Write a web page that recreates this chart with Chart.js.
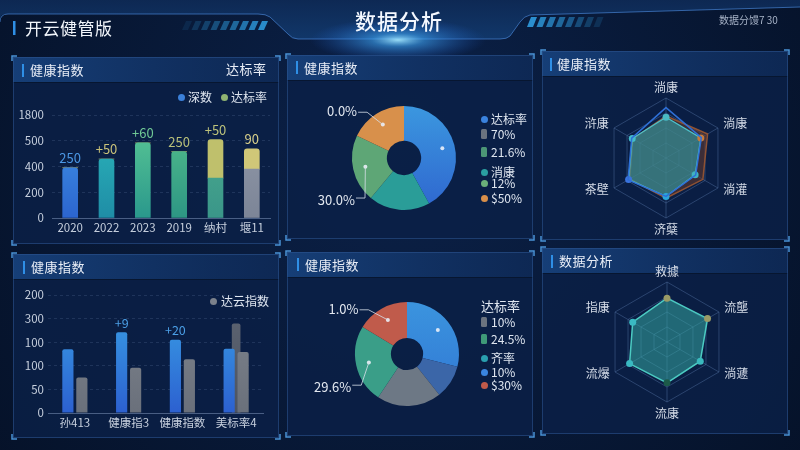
<!DOCTYPE html>
<html><head><meta charset="utf-8">
<script src="https://cdn.jsdelivr.net/npm/chart.js@4.4.1/dist/chart.umd.min.js"></script>
<style>
html,body{margin:0;padding:0}
body{width:800px;height:450px;overflow:hidden;position:relative;background:#061531;font-family:"Noto Sans CJK SC","Noto Sans",sans-serif;color:#e6ecf5}
.abs{position:absolute}
canvas{position:absolute;display:block}
.title{position:absolute;font-size:13px;line-height:16px;color:#e9eef7;white-space:nowrap;letter-spacing:0.5px}
.lg{position:absolute;font-size:12px;line-height:14px;color:#dfe6f0;white-space:nowrap}
.mk{position:absolute}
</style></head>
<body>
<canvas id="deco" width="800" height="450" style="left:0;top:0"></canvas>

<div class="abs" style="left:25px;top:17px;font-size:17px;line-height:22px;color:#f2f6fb;letter-spacing:0.5px">开云健管版</div>
<div class="abs" style="left:0;width:798px;top:7px;text-align:center;font-size:21px;line-height:26px;color:#f4f8ff;letter-spacing:1px;font-weight:500">数据分析</div>
<div class="abs" style="left:719px;top:13px;font-size:10px;line-height:14px;color:#a7b3c7">数据分馒7 30</div>

<div class="title" style="left:30px;top:62px">健康指数</div>
<div class="title" style="left:226px;top:61px">达标率</div>
<div class="title" style="left:304px;top:60px">健康指数</div>
<div class="title" style="left:557px;top:56px">健康指数</div>
<div class="title" style="left:31px;top:259px">健康指数</div>
<div class="title" style="left:305px;top:257px">健康指数</div>
<div class="title" style="left:559px;top:253px">数据分析</div>

<canvas id="c1" width="266" height="164" style="left:13px;top:80px"></canvas>
<canvas id="c2" width="246" height="160" style="left:287px;top:80px"></canvas>
<canvas id="c3" width="248" height="168" style="left:542px;top:72px"></canvas>
<canvas id="c4" width="266" height="162" style="left:13px;top:276px"></canvas>
<canvas id="c5" width="246" height="160" style="left:287px;top:276px"></canvas>
<canvas id="c6" width="248" height="178" style="left:542px;top:258px"></canvas>

<div id="lg1"></div><div id="lg2"></div><div id="lg4"></div><div id="lg5"></div>

<script>
// ================= DATA =================
const bar1Categories = ["2020", "2022", "2023", "2019", "纳村", "堰11"];
const bar1Base = [390, 458, 583, 515, 310, 380];
const bar1Top = [0, 0, 0, 0, 299, 157];
const bar1YTickLabels = ["0", "200", "400", "500", "1800"];
const bar1ValueLabels = ["250", "+50", "+60", "250", "+50", "90"];
const bar1LegendLabels = ["深数", "达标率"];

const bar2Categories = ["孙413", "健康指3", "健康指数", "美标率4"];
const bar2Blue = [135, 171, 155, 136];
const bar2Gray = [75, 96, 114, 129];
const bar2Dark = [null, null, null, 189];
const bar2YTickLabels = ["0", "50", "100", "100", "300", "200"];
const bar2ValueLabels = ["", "+9", "+20", ""];
const bar2LegendLabels = ["达云指数"];

const pie1Slices = ["达标率", "消康", "12%", "$50%"];
const pie1Values = [42, 19, 21, 18];
const pie1Callouts = ["", "", "30.0%", "0.0%"];
const pie1LegendLabels = ["达标率", "70%", "21.6%", "消康", "12%", "$50%"];

const pie2Slices = ["10%", "达标率", "10%", "24.5%", "$30%"];
const pie2Values = [29, 10.4, 20, 24.4, 16.3];
const pie2Callouts = ["", "", "", "29.6%", "1.0%"];
const pie2LegendLabels = ["达标率", "10%", "24.5%", "齐率", "10%", "$30%"];

const radar1Axes = ["淌康", "淌康", "淌灌", "济蘖", "茶壁", "浒康"];
const radar1Teal = [68, 67, 56, 64, 72, 65];
const radar1Brown = [70, 80, 71, 67, 70, 64];
const radar1Blue = [84, 68, 57, 64, 73, 66];

const radar2Axes = ["救據", "流壟", "淌蘧", "流康", "流爆", "指康"];
const radar2Values = [73, 78, 64, 68, 72, 66];

// ================= STYLE =================
const FONT = '"Noto Sans CJK SC","Noto Sans",sans-serif';
const TICK = '#c6cfdd';
const GRID = 'rgba(130,155,200,0.18)';

// ---------- decoration ----------
(function(){
  const c = document.getElementById('deco').getContext('2d');
  let g = c.createRadialGradient(400, 120, 20, 400, 200, 520);
  g.addColorStop(0, '#0b2148'); g.addColorStop(1, '#051127');
  c.fillStyle = g; c.fillRect(0, 0, 800, 450);
  // header band
  c.beginPath();
  c.moveTo(0, 0); c.lineTo(800, 0); c.lineTo(800, 7); c.lineTo(530, 15);
  c.quadraticCurveTo(524, 16, 520, 22); c.lineTo(510, 36); c.quadraticCurveTo(507, 39, 500, 39);
  c.lineTo(298, 39); c.quadraticCurveTo(292, 39, 288, 34); c.lineTo(270, 17); c.quadraticCurveTo(266, 14, 258, 14);
  c.lineTo(6, 14); c.quadraticCurveTo(0, 14, 0, 20); c.closePath();
  g = c.createLinearGradient(0, 0, 0, 40);
  g.addColorStop(0, 'rgba(14,42,86,0.9)'); g.addColorStop(1, 'rgba(18,58,110,0.9)');
  c.fillStyle = g; c.fill();
  c.beginPath();
  c.moveTo(0, 22); c.quadraticCurveTo(0, 14, 8, 14); c.lineTo(258, 14); c.quadraticCurveTo(266, 14, 270, 17);
  c.lineTo(288, 34); c.quadraticCurveTo(292, 39, 298, 39); c.lineTo(500, 39); c.quadraticCurveTo(507, 39, 510, 36);
  c.lineTo(520, 22); c.quadraticCurveTo(524, 16, 530, 15); c.lineTo(800, 7);
  c.strokeStyle = 'rgba(70,130,210,0.7)'; c.lineWidth = 1; c.stroke();
  // glow
  c.save(); c.translate(398, 40); c.scale(4, 1);
  g = c.createRadialGradient(0, 0, 0, 0, 0, 22);
  g.addColorStop(0, 'rgba(160,230,255,0.95)'); g.addColorStop(0.3, 'rgba(60,160,240,0.6)'); g.addColorStop(1, 'rgba(30,90,200,0)');
  c.fillStyle = g; c.beginPath(); c.arc(0, 0, 22, 0, Math.PI * 2); c.fill(); c.restore();
  // stripes
  function stripes(x0, y0, n, step, h, alphaFn){
    for (let i = 0; i < n; i++){
      const x = x0 + i * step;
      c.fillStyle = 'rgba(45,150,215,' + alphaFn(i) + ')';
      c.beginPath(); c.moveTo(x + 4, y0); c.lineTo(x + 10, y0); c.lineTo(x + 6, y0 + h); c.lineTo(x, y0 + h); c.closePath(); c.fill();
    }
  }
  stripes(182, 21, 9, 9.5, 9, i => (0.12 + i * 0.1).toFixed(2));
  stripes(527, 17, 8, 9.5, 10, i => (0.95 - i * 0.11).toFixed(2));
  // header left bar
  c.fillStyle = '#2f8fe6'; c.fillRect(13, 21, 2.5, 14);
  // panels
  const panels = [
    {x:13,y:57,w:266,h:187,bar:[22,64]},
    {x:287,y:55,w:246,h:184,bar:[296,61]},
    {x:542,y:51,w:246,h:189,bar:[550,58]},
    {x:13,y:254,w:266,h:184,bar:[23,261]},
    {x:287,y:252,w:246,h:184,bar:[297,258]},
    {x:542,y:248,w:246,h:186,bar:[551,255]}
  ];
  panels.forEach(p => {
    c.fillStyle = 'rgba(11,32,70,0.85)'; c.fillRect(p.x, p.y, p.w, p.h);
    g = c.createLinearGradient(p.x, 0, p.x + p.w, 0);
    g.addColorStop(0, 'rgba(24,68,128,0.85)'); g.addColorStop(1, 'rgba(16,46,94,0.6)');
    c.fillStyle = g; c.fillRect(p.x, p.y, p.w, 25);
    c.fillStyle = 'rgba(6,18,40,0.7)'; c.fillRect(p.x, p.y + 25, p.w, 1);
    c.strokeStyle = 'rgba(45,85,145,0.55)'; c.lineWidth = 1; c.strokeRect(p.x + 0.5, p.y + 0.5, p.w - 1, p.h - 1);
    c.fillStyle = '#2f8fe6'; c.fillRect(p.bar[0], p.bar[1], 2, 13);
    c.strokeStyle = '#4a92d6'; c.lineWidth = 1.5;
    const L = 5, x1 = p.x - 1, y1 = p.y - 1, x2 = p.x + p.w + 1, y2 = p.y + p.h + 1;
    [[x1,y1,1,1],[x2,y1,-1,1],[x1,y2,1,-1],[x2,y2,-1,-1]].forEach(([x,y,sx,sy]) => {
      c.beginPath(); c.moveTo(x + sx * L, y); c.lineTo(x, y); c.lineTo(x, y + sy * L); c.stroke();
    });
  });
})();

// ---------- helpers ----------
function vgrad(ctx, top, bottom){
  const a = ctx.chart.chartArea;
  if (!a) return top;
  const g = ctx.chart.ctx.createLinearGradient(0, a.top, 0, a.bottom);
  g.addColorStop(0, top); g.addColorStop(1, bottom);
  return g;
}
function legendHTML(id, labels, markers, ys, x, textX){
  const el = document.getElementById(id);
  let h = '';
  labels.forEach((t, i) => {
    const m = markers[i];
    if (m){
      if (m.shape === 'circle') h += `<div class="mk" style="left:${x-3.5}px;top:${ys[i]-3.5}px;width:7px;height:7px;border-radius:50%;background:${m.color}"></div>`;
      else h += `<div class="mk" style="left:${x-3}px;top:${ys[i]-5}px;width:6px;height:10px;border-radius:1.5px;background:${m.color}"></div>`;
    }
    h += `<div class="lg" style="left:${m ? textX : x - 3}px;top:${ys[i]-7}px;${m?'':'font-size:13px'}">${t}</div>`;
  });
  el.innerHTML = h;
}

const valueLabelPlugin = {
  id: 'valueLabels',
  afterDatasetsDraw(chart, args, opts){
    const ctx = chart.ctx; ctx.save();
    ctx.font = opts.font; ctx.textAlign = 'center'; ctx.textBaseline = 'bottom';
    opts.labels.forEach((t, i) => {
      if (!t) return;
      let top = Infinity, x = 0;
      opts.datasets.forEach(d => {
        const v = chart.data.datasets[d].data[i];
        const el = chart.getDatasetMeta(d).data[i];
        if (el && v) { if (el.y < top) { top = el.y; x = el.x; } }
      });
      ctx.fillStyle = opts.colors[i];
      ctx.fillText(t, x, top - opts.gap);
    });
    ctx.restore();
  }
};

const calloutPlugin = {
  id: 'callouts',
  afterDatasetsDraw(chart, args, opts){
    const ctx = chart.ctx; ctx.save();
    const meta = chart.getDatasetMeta(0);
    meta.data.forEach((arc, i) => {
      const p = arc.getProps(['x','y','startAngle','endAngle','innerRadius','outerRadius'], true);
      const mid = (p.startAngle + p.endAngle) / 2;
      const r = (p.innerRadius + p.outerRadius) / 2 + 5;
      const dx = p.x + Math.cos(mid) * r, dy = p.y + Math.sin(mid) * r;
      if (opts.dots.includes(i)){
        ctx.fillStyle = 'rgba(235,240,248,0.9)';
        ctx.beginPath(); ctx.arc(dx, dy, 2, 0, Math.PI * 2); ctx.fill();
      }
      const text = opts.texts[i], e = opts.elbows[i];
      if (!text || !e) return;
      const ex = p.x + e[0] * p.outerRadius, ey = p.y + e[1] * p.outerRadius;
      ctx.strokeStyle = 'rgba(215,222,232,0.8)'; ctx.lineWidth = 1;
      ctx.beginPath(); ctx.moveTo(dx, dy); ctx.lineTo(ex, ey); ctx.lineTo(ex - 9, ey); ctx.stroke();
      ctx.font = '13px ' + FONT; ctx.fillStyle = '#e3e8f0'; ctx.textAlign = 'right'; ctx.textBaseline = 'middle';
      ctx.fillText(text, ex - 10, ey + (e[1] > 0 ? 2 : -1));
    });
    ctx.restore();
  }
};

const radarLabelPlugin = {
  id: 'radarLabels',
  afterDraw(chart){
    const s = chart.scales.r, ctx = chart.ctx; ctx.save();
    ctx.font = '12px ' + FONT; ctx.fillStyle = '#d3dae6'; ctx.textBaseline = 'middle';
    chart.data.labels.forEach((t, i) => {
      const ang = s.getIndexAngle(i) - Math.PI / 2;
      const vert = Math.abs(Math.cos(ang)) < 0.1;
      const p = s.getPointPosition(i, s.drawingArea + (vert ? 11 : 6));
      ctx.textAlign = vert ? 'center' : (Math.cos(ang) > 0 ? 'left' : 'right');
      ctx.fillText(t, p.x, p.y + (vert ? 0 : -2));
    });
    ctx.restore();
  }
};

Chart.defaults.font.family = FONT;
Chart.defaults.animation = false;
Chart.defaults.responsive = false;
Chart.defaults.plugins.legend.display = false;
Chart.defaults.plugins.tooltip.enabled = false;

// ---------- chart 1 : stacked bars ----------
const bar1BaseColors = [['#4299e8','#2c65cf'],['#2cb9bd','#1f8da6'],['#5ecb95','#2a988c'],['#56c18c','#2d9684'],['#4eae8e','#3a9689'],['#949bab','#7c8597']];
const bar1TopColors = ['#c4c46c','#c4c46c','#c4c46c','#c4c46c','#bfc06c','#d0c778'];
new Chart(document.getElementById('c1'), {
  type: 'bar',
  data: { labels: bar1Categories, datasets: [
    { label: bar1LegendLabels[0], data: bar1Base, stack: 's', barThickness: 15,
      backgroundColor: ctx => vgrad(ctx, bar1BaseColors[ctx.dataIndex][0], bar1BaseColors[ctx.dataIndex][1]),
      borderRadius: ctx => bar1Top[ctx.dataIndex] > 0 ? 0 : {topLeft: 3, topRight: 3, bottomLeft: 0, bottomRight: 0}, borderSkipped: false },
    { label: bar1LegendLabels[1], data: bar1Top, stack: 's', barThickness: 15,
      backgroundColor: ctx => bar1TopColors[ctx.dataIndex],
      borderRadius: {topLeft: 3, topRight: 3, bottomLeft: 0, bottomRight: 0}, borderSkipped: false }
  ]},
  options: {
    layout: { padding: { left: 0, right: 9, top: 35, bottom: 6 } },
    plugins: { valueLabels: { labels: bar1ValueLabels, datasets: [0, 1], gap: 3, font: '13px ' + FONT,
      colors: ['#4b97e4', '#c9c27a', '#70c996', '#b9c07a', '#bcc27b', '#d8cf8a'] } },
    scales: {
      x: { stacked: true, grid: { display: false, drawTicks: false }, border: { color: 'rgba(150,172,210,0.45)' },
           ticks: { color: TICK, font: { size: 11.5 }, padding: 3, autoSkip: false, maxRotation: 0 },
           afterFit(s){ s.height = 20; } },
      y: { stacked: true, min: 0, max: 800,
           ticks: { stepSize: 200, color: TICK, font: { size: 11.5 }, padding: 8, callback: (v, i) => bar1YTickLabels[i] },
           grid: { color: ctx => ctx.tick && ctx.tick.value === 0 ? 'rgba(0,0,0,0)' : GRID, drawTicks: false },
           border: { display: false, dash: [3, 3] },
           afterFit(s){ s.width = 39; } }
    }
  },
  plugins: [valueLabelPlugin]
});
legendHTML('lg1', bar1LegendLabels, [{shape:'circle',color:'#3b80d9'},{shape:'circle',color:'#8fb372'}], [97, 97], 0, 0);
(function(){ // place chart-1 legend items
  const el = document.getElementById('lg1'); const kids = el.children;
  kids[0].style.left = '177.5px'; kids[1].style.left = '188px';
  kids[2].style.left = '220.5px'; kids[3].style.left = '231px';
})();

// ---------- chart 4 : grouped bars ----------
new Chart(document.getElementById('c4'), {
  type: 'bar',
  data: { labels: bar2Categories, datasets: [
    { label: 'a', data: bar2Blue, order: 1, categoryPercentage: 0.52, barPercentage: 0.8,
      backgroundColor: ctx => vgrad(ctx, '#3aa6e8', '#2c60d0'), borderRadius: {topLeft: 2, topRight: 2, bottomLeft: 0, bottomRight: 0}, borderSkipped: false },
    { label: bar2LegendLabels[0], data: bar2Gray, order: 1, categoryPercentage: 0.52, barPercentage: 0.8,
      backgroundColor: ctx => vgrad(ctx, '#80868f', '#6a707b'), borderRadius: {topLeft: 2, topRight: 2, bottomLeft: 0, bottomRight: 0}, borderSkipped: false },
    { label: 'b', data: bar2Dark, order: 2, grouped: false, barThickness: 8,
      backgroundColor: ctx => vgrad(ctx, '#5e6573', '#4d5461'), borderRadius: {topLeft: 2, topRight: 2, bottomLeft: 0, bottomRight: 0}, borderSkipped: false }
  ]},
  options: {
    layout: { padding: { left: 0, right: 16, top: 19, bottom: 5 } },
    plugins: { valueLabels: { labels: bar2ValueLabels, datasets: [0], gap: 3, font: '12.5px ' + FONT,
      colors: ['#4b9fe6', '#4b9fe6', '#4b9fe6', '#4b9fe6'] } },
    scales: {
      x: { grid: { display: false, drawTicks: false }, border: { color: 'rgba(150,172,210,0.45)' },
           ticks: { color: TICK, font: { size: 11.5 }, padding: 3, autoSkip: false, maxRotation: 0 },
           afterFit(s){ s.height = 20; } },
      y: { min: 0, max: 250,
           ticks: { stepSize: 50, color: TICK, font: { size: 11.5 }, padding: 4, callback: (v, i) => bar2YTickLabels[i] },
           grid: { color: ctx => ctx.tick && ctx.tick.value === 0 ? 'rgba(0,0,0,0)' : GRID, drawTicks: false },
           border: { display: false, dash: [3, 3] },
           afterFit(s){ s.width = 35; } }
    }
  },
  plugins: [valueLabelPlugin]
});
legendHTML('lg4', bar2LegendLabels, [{shape:'circle',color:'#7c828c'}], [301], 213, 221);

// ---------- chart 2 : doughnut ----------
new Chart(document.getElementById('c2'), {
  type: 'doughnut',
  data: { labels: pie1Slices, datasets: [{ data: pie1Values, borderWidth: 0,
    backgroundColor: ctx => ctx.dataIndex === 0 ? vgrad(ctx, '#3b97df', '#2f66cf') : ['#3b8ee0','#2a9d98','#5ea676','#d8904b'][ctx.dataIndex] }] },
  options: {
    cutout: '33%',
    layout: { padding: { left: 65, right: 77, top: 26, bottom: 30 } },
    plugins: { callouts: { texts: pie1Callouts, dots: [0, 2, 3], elbows: [null, null, [-0.75, 0.77], [-0.71, -0.88]] } }
  },
  plugins: [calloutPlugin]
});
legendHTML('lg2', pie1LegendLabels,
  [{shape:'circle',color:'#3a82de'},{shape:'square',color:'#6b737f'},{shape:'square',color:'#4c9676'},{shape:'circle',color:'#2a9ea0'},{shape:'circle',color:'#6bb07a'},{shape:'circle',color:'#d98f4a'}],
  [119, 134, 152, 172, 183, 198], 484, 491);

// ---------- chart 5 : doughnut ----------
new Chart(document.getElementById('c5'), {
  type: 'doughnut',
  data: { labels: pie2Slices, datasets: [{ data: pie2Values, borderWidth: 0,
    backgroundColor: ctx => ctx.dataIndex === 0 ? vgrad(ctx, '#3b94de', '#3076d4') : ['#3a85de','#3b66a8','#6d7885','#3a9e88','#c05b4b'][ctx.dataIndex] }] },
  options: {
    cutout: '31%',
    layout: { padding: { left: 68, right: 74, top: 26, bottom: 30 } },
    plugins: { callouts: { texts: pie2Callouts, dots: [0, 3, 4], elbows: [null, null, null, [-0.88, 0.6], [-0.74, -0.85]] } }
  },
  plugins: [calloutPlugin]
});
legendHTML('lg5', pie2LegendLabels,
  [null,{shape:'square',color:'#6b737f'},{shape:'square',color:'#3f9a78'},{shape:'circle',color:'#2aa0b0'},{shape:'circle',color:'#3a85e0'},{shape:'circle',color:'#c05a4a'}],
  [306, 322, 339, 358, 372, 385], 484, 491);

// ---------- radar options ----------
function radarScale(){
  return { r: { min: 0, max: 100, ticks: { display: false, stepSize: 25 },
    grid: { color: 'rgba(85,115,165,0.45)', lineWidth: 1 },
    angleLines: { color: 'rgba(85,115,165,0.45)' },
    pointLabels: { display: false } } };
}

// ---------- chart 3 : radar ----------
new Chart(document.getElementById('c3'), {
  type: 'radar',
  data: { labels: radar1Axes, datasets: [
    { data: radar1Blue, order: 1, borderColor: '#2e6fd6', borderWidth: 1.5, backgroundColor: 'rgba(0,0,0,0)', fill: false, pointRadius: 0 },
    { data: radar1Teal, order: 2, borderColor: '#4cc3cc', borderWidth: 1.2, backgroundColor: 'rgba(50,160,168,0.6)', fill: true,
      pointRadius: 3.5, pointBorderWidth: 0,
      pointBackgroundColor: ['#49b9c3', '#c87a3a', '#3fb2c2', '#2aa6dc', '#3a73de', '#44bccb'] },
    { data: radar1Brown, order: 3, borderColor: '#8f5233', borderWidth: 1.5, backgroundColor: 'rgba(110,60,42,0.5)', fill: true, pointRadius: 0 }
  ]},
  options: { layout: { padding: { left: 64, right: 64, top: 26, bottom: 22 } }, scales: radarScale() },
  plugins: [radarLabelPlugin]
});

// ---------- chart 6 : radar ----------
new Chart(document.getElementById('c6'), {
  type: 'radar',
  data: { labels: radar2Axes, datasets: [
    { data: radar2Values, borderColor: '#4ccbc2', borderWidth: 1.5, backgroundColor: 'rgba(52,165,160,0.55)', fill: true,
      pointRadius: 3.5, pointBorderWidth: 0,
      pointBackgroundColor: ['#9a9a66', '#9a9a66', '#3ab9bd', '#1c5a49', '#3ab9c2', '#3ab9c2'] }
  ]},
  options: { layout: { padding: { left: 65, right: 63, top: 24, bottom: 34 } }, scales: radarScale() },
  plugins: [radarLabelPlugin]
});
</script>
</body></html>
